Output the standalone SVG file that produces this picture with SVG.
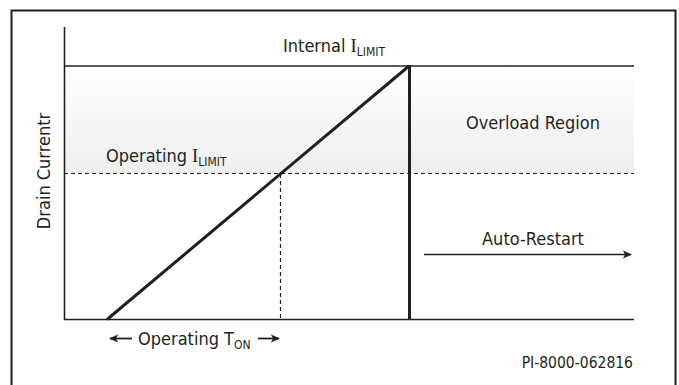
<svg xmlns="http://www.w3.org/2000/svg" width="679" height="385" viewBox="0 0 679 385">
<style>
text{font-family:"DejaVu Sans Condensed","DejaVu Sans",sans-serif;fill:#231f20;font-size:18px}
.ln{stroke:#231f20;fill:none}
.sub{font-size:12px}
.ser{font-family:"Liberation Serif","Times New Roman",serif;font-size:18.5px}
</style>
<defs>
<linearGradient id="g" x1="0" y1="0" x2="0" y2="1">
<stop offset="0" stop-color="#ffffff"/>
<stop offset="1" stop-color="#eeeeee"/>
</linearGradient>
<marker id="ah" viewBox="0 0 10 10" refX="9" refY="5" markerWidth="9" markerHeight="9" markerUnits="userSpaceOnUse" orient="auto">
<path d="M0,0.5 L10,5 L0,9.5 L2.5,5 Z" fill="#231f20"/>
</marker>
</defs>
<rect x="0" y="0" width="679" height="385" fill="#fff"/>
<path class="ln" d="M11.5,400 V10.5 H675.5 V400" stroke-width="2"/>
<g id="overload-region">
<rect x="64" y="66" width="570" height="107" fill="url(#g)"/>
</g>
<g id="axes">
<path class="ln" d="M64.5,27 V319.5 H634" stroke-width="1.6"/>
</g>
<g id="connectors">
<line class="ln" x1="64" y1="66" x2="634" y2="66" stroke-width="1.6"/>
<line class="ln" x1="64" y1="173.5" x2="634" y2="173.5" stroke-width="1.2" stroke-dasharray="4,3"/>
<line class="ln" x1="280.5" y1="174" x2="280.5" y2="319" stroke-width="1.2" stroke-dasharray="4,3"/>
<line class="ln" x1="107" y1="319.5" x2="409" y2="66" stroke-width="3"/>
<line class="ln" x1="409.5" y1="65" x2="409.5" y2="320" stroke-width="3"/>
<line class="ln" x1="424" y1="254.5" x2="631" y2="254.5" stroke-width="1.6" marker-end="url(#ah)"/>
<line class="ln" x1="132" y1="338.5" x2="110" y2="338.5" stroke-width="1.8" marker-end="url(#ah)"/>
<line class="ln" x1="258" y1="338.5" x2="279" y2="338.5" stroke-width="1.8" marker-end="url(#ah)"/>
</g>
<g id="label-internal">
<text x="334" y="52" text-anchor="middle">Internal <tspan class="ser">I</tspan><tspan class="sub" dy="4">LIMIT</tspan></text>
</g>
<g id="label-operating">
<text x="106" y="162">Operating <tspan class="ser">I</tspan><tspan class="sub" dy="4">LIMIT</tspan></text>
</g>
<g id="label-overload">
<text x="533" y="129" text-anchor="middle">Overload Region</text>
</g>
<g id="label-autorestart">
<text x="533" y="245" text-anchor="middle">Auto-Restart</text>
</g>
<g id="label-ton">
<text x="138" y="345">Operating T<tspan class="sub" dy="4">ON</tspan></text>
</g>
<g id="label-yaxis">
<text x="50" y="171" text-anchor="middle" transform="rotate(-90 50 171)">Drain Currentr</text>
</g>
<g id="label-pi">
<text x="633" y="368" text-anchor="end" style="font-size:15.5px">PI-8000-062816</text>
</g>
</svg>
